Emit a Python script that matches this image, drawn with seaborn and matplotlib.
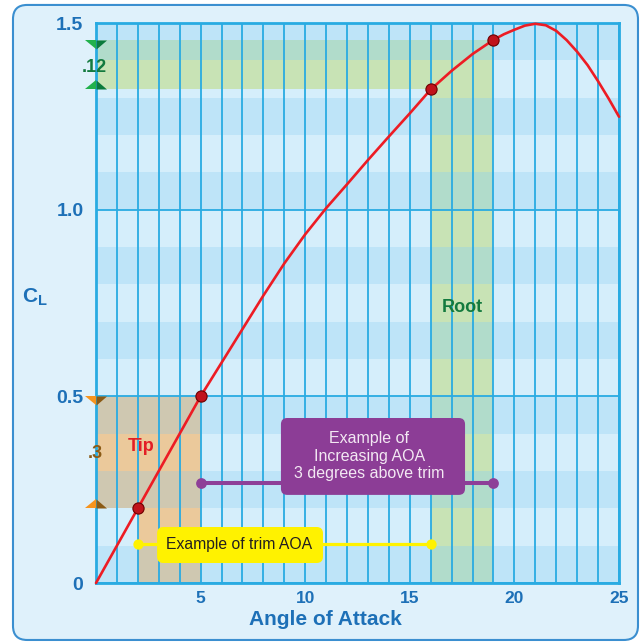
import matplotlib
matplotlib.use('Agg')
import matplotlib.pyplot as plt
from matplotlib.patches import FancyBboxPatch
import seaborn as sns

# lift curve
aoa = [0, 1, 2, 3, 4, 5, 6, 7, 8, 9, 10, 11, 12, 13, 14, 15, 16, 17, 18, 19,
       19.5, 20, 20.5, 21, 21.5, 22, 22.5, 23, 23.5, 24, 24.5, 25]
cl = [0, 0.10, 0.20, 0.30, 0.40, 0.50, 0.59, 0.68, 0.77, 0.856, 0.934, 1.004,
      1.068, 1.133, 1.196, 1.258, 1.322, 1.372, 1.417, 1.455,
      1.47, 1.482, 1.493, 1.498, 1.494, 1.479, 1.454, 1.423, 1.387, 1.344, 1.298, 1.249]

# marked points: tip (2, 5) and root (16, 19)
point_aoa = [2, 5, 16, 19]
point_cl = [0.20, 0.50, 1.322, 1.455]

x_ticks = [5, 10, 15, 20, 25]
y_ticks = [0, 0.5, 1.0, 1.5]
y_tick_labels = ['0', '0.5', '1.0', '1.5']

trim_aoa = [2, 16]          # yellow: trim AOA, tip -> root
trim_level = 0.1045
increase_aoa = [5, 19]      # purple: 3 degrees above trim
increase_level = 0.268

blue = '#1d70b7'
grid_c = '#29abe2'
band_dark, band_light = '#bee4f8', '#d5eefb'
green_dark, green_light = '#b1dccb', '#c8e3b5'
orange_dark, orange_light = '#cfc8b1', '#ebc99b'

sns.set_theme(style='white')
plt.rcParams['font.family'] = ['Liberation Sans', 'DejaVu Sans']
plt.rcParams['mathtext.fontset'] = 'custom'
plt.rcParams['mathtext.bf'] = 'Liberation Sans:bold'
plt.rcParams['mathtext.rm'] = 'Liberation Sans'

fig = plt.figure(figsize=(6.43, 6.43), dpi=100, facecolor='white')
fig.patches.append(FancyBboxPatch((0.0202, 0.0047), 0.972, 0.9876,
                                  boxstyle='round,pad=0,rounding_size=0.022',
                                  transform=fig.transFigure, facecolor='#dff1fb',
                                  edgecolor='#3b8fd0', linewidth=1.5, zorder=-1))
ax = fig.add_axes([0.1493, 0.0933, 0.8134, 0.8709])

# alternating horizontal stripes
for k in range(15):
    ax.axhspan(k / 10, k / 10 + 0.1, color=band_dark if k % 2 == 0 else band_light,
               lw=0, zorder=0)


def shade(x0, x1, y0, y1, c_dark, c_light):
    for k in range(15):
        lo, hi = max(k / 10, y0), min(k / 10 + 0.1, y1)
        if hi > lo:
            ax.fill_between([x0, x1], lo, hi, color=c_dark if k % 2 == 0 else c_light,
                            lw=0, zorder=1)


shade(0, point_aoa[3], point_cl[2], point_cl[3], green_dark, green_light)
shade(point_aoa[2], point_aoa[3], 0, point_cl[2], green_dark, green_light)
shade(0, point_aoa[1], point_cl[0], point_cl[1], orange_dark, orange_light)
shade(point_aoa[0], point_aoa[1], 0, point_cl[0], orange_dark, orange_light)

ax.set_xlim(0, 25)
ax.set_ylim(0, 1.5)
ax.set_xticks(x_ticks)
ax.set_xticks(range(26), minor=True)
ax.set_yticks(y_ticks)
ax.set_yticklabels(y_tick_labels)
ax.set_axisbelow(False)
ax.grid(which='both', axis='x', color=grid_c, lw=1.3)
ax.grid(which='major', axis='y', color=grid_c, lw=1.3)
ax.tick_params(which='both', length=0, colors=blue)
ax.tick_params(axis='x', labelsize=12.5, pad=6)
ax.tick_params(axis='y', labelsize=14, pad=9)
for lab in ax.get_xticklabels() + ax.get_yticklabels():
    lab.set_fontweight('bold')
for sp in ax.spines.values():
    sp.set_color(grid_c)
    sp.set_linewidth(2)

# curve
sns.lineplot(x=aoa, y=cl, color='#ed1c24', lw=1.9, ax=ax, zorder=4)
ax.lines[-1].set_clip_on(False)
ax.lines[-1].set_solid_joinstyle('round')

# connector lines
ax.plot(increase_aoa, [increase_level] * 2, color='#8e3f98', lw=2.9, zorder=3.5,
        solid_capstyle='butt')
sns.scatterplot(x=increase_aoa, y=[increase_level] * 2, s=60, color='#8e3f98',
                linewidth=0, ax=ax, zorder=3.6, legend=False)
ax.plot(trim_aoa, [trim_level] * 2, color='#fff200', lw=2.3, zorder=3.5)
sns.scatterplot(x=trim_aoa, y=[trim_level] * 2, s=55, color='#fff200',
                linewidth=0, ax=ax, zorder=3.6, legend=False)

# points on the curve
sns.scatterplot(x=point_aoa, y=point_cl, s=65, color='#c0131b', edgecolor='#6e0000',
                linewidth=0.8, ax=ax, zorder=5, legend=False)

# boxes
asp = (523 / 25) / (560 / 1.5)
ax.add_patch(FancyBboxPatch((8.84, 0.236), 8.8, 0.206,
                            boxstyle='round,pad=0,rounding_size=0.3', mutation_aspect=asp,
                            fc='#8c3d96', ec='none', zorder=5))
ax.text(13.07, 0.34, 'Example of\nIncreasing AOA\n3 degrees above trim', ha='center',
        va='center', color='#f3e8f3', fontsize=11.5, linespacing=1.2, zorder=6)
ax.add_patch(FancyBboxPatch((2.92, 0.0536), 7.93, 0.0964,
                            boxstyle='round,pad=0,rounding_size=0.3', mutation_aspect=asp,
                            fc='#fff200', ec='none', zorder=5))
ax.text(6.86, 0.102, 'Example of trim AOA', ha='center', va='center',
        color='#231f20', fontsize=11.3, zorder=6)

ax.text(2.15, 0.365, 'Tip', ha='center', va='center', color='#e31e25',
        fontsize=13, fontweight='bold', zorder=6)
ax.text(17.5, 0.737, 'Root', ha='center', va='center', color='#137a3e',
        fontsize=13, fontweight='bold', zorder=6)

# range markers on the CL axis
tri_dn_l = [(-1, 0), (0, 0), (0, -0.86)]
tri_dn_r = [(0, 0), (1, 0), (0, -0.86)]
tri_up_l = [(-1, 0), (0, 0), (0, 0.86)]
tri_up_r = [(0, 0), (1, 0), (0, 0.86)]
for top, bot, c_l, c_r in [(point_cl[3], point_cl[2], '#22b14c', '#0b7a3c'),
                           (point_cl[1], point_cl[0], '#f7941d', '#8b5a14')]:
    ax.scatter([0], [top], marker=tri_dn_l, s=230, color=c_l, lw=0, zorder=7, clip_on=False)
    ax.scatter([0], [top], marker=tri_dn_r, s=230, color=c_r, lw=0, zorder=7, clip_on=False)
    ax.scatter([0], [bot], marker=tri_up_l, s=230, color=c_l, lw=0, zorder=7, clip_on=False)
    ax.scatter([0], [bot], marker=tri_up_r, s=230, color=c_r, lw=0, zorder=7, clip_on=False)

ax.text(-0.1, 1.382, '.12', ha='center', va='center', color='#137a3e',
        fontsize=13, fontweight='bold', zorder=7, clip_on=False)
ax.text(-0.05, 0.346, '.3', ha='center', va='center', color='#8b5a14',
        fontsize=13, fontweight='bold', zorder=7, clip_on=False)

ax.set_xlabel('Angle of Attack', fontsize=15, fontweight='bold', color=blue, va='center')
ax.xaxis.set_label_coords(0.438, -0.066)
ax.set_ylabel(r'$\mathbf{C_L}$', fontsize=15, color=blue, rotation=0,
              ha='center', va='center')
ax.yaxis.set_label_coords(-0.117, 0.511)

fig.savefig('out.png', dpi=100)
